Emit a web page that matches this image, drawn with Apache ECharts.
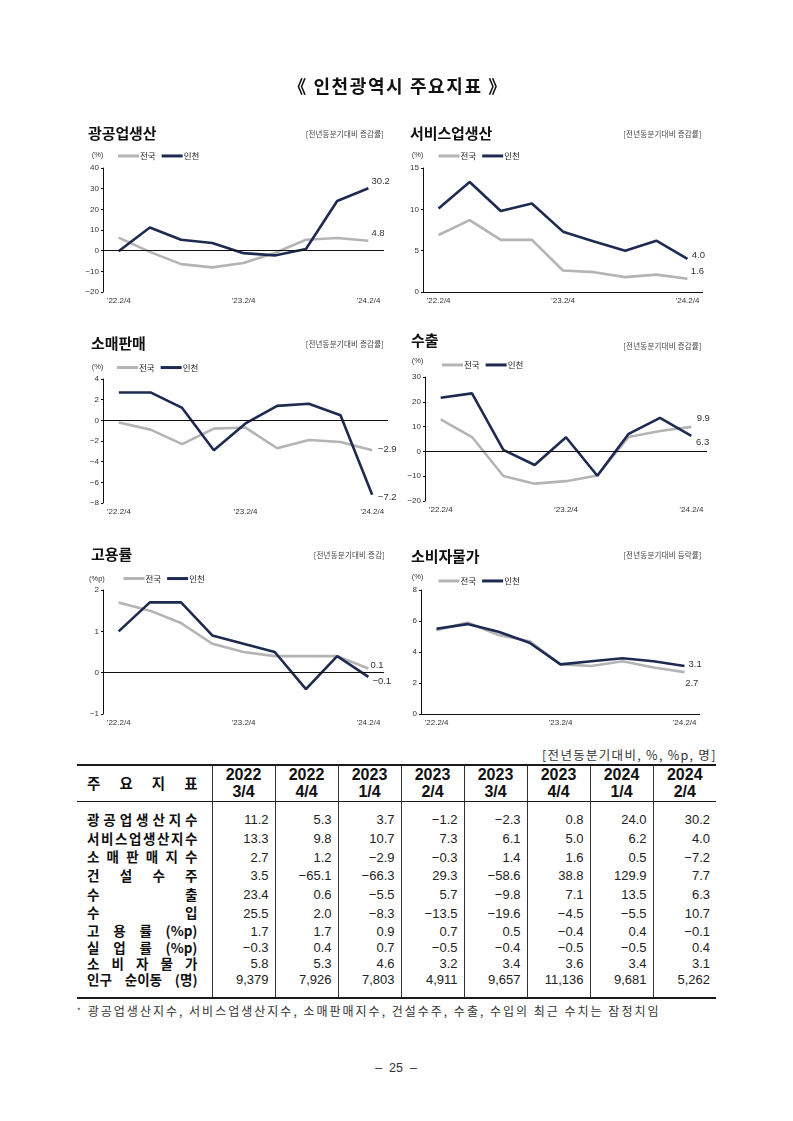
<!DOCTYPE html>
<html><head><meta charset="utf-8">
<script src="https://cdn.jsdelivr.net/npm/echarts@6/dist/echarts.min.js"></script>
<style>
body{margin:0;background:#fff;}
#page{position:relative;width:793px;height:1121px;font-family:'Liberation Sans','Noto Sans CJK KR',sans-serif;color:#111;overflow:hidden;}
#chart{position:absolute;left:0;top:0;width:793px;height:740px;}
.t{position:absolute;transform:translateY(-50%);line-height:1;white-space:nowrap;}
.h{font-family:'Noto Sans CJK KR',sans-serif;font-weight:700;font-size:15px;letter-spacing:-0.1px;color:#111;}
.s{font-family:'Noto Sans CJK KR',sans-serif;font-size:7.5px;letter-spacing:0.2px;color:#444;}
.u{font-size:7.5px;color:#333;}
#tbl{position:absolute;left:77px;top:764px;width:639px;border-collapse:collapse;table-layout:fixed;}
#tbl td,#tbl th{padding:0;margin:0;}
#tbl th{border-top:2px solid #1a1a1a;border-bottom:1px solid #1a1a1a;height:35px;font-weight:700;font-size:16px;line-height:16.7px;text-align:center;font-family:'Liberation Sans',sans-serif;color:#111;}
#tbl .v{border-left:1px solid #333;}
#tbl td.num{text-align:right;padding-right:6px;font-size:13px;color:#222;line-height:1;}
#tbl tr.last td{border-bottom:2px solid #1a1a1a;}
.lab{display:flex;justify-content:space-between;padding:0 14px 0 10px;font-family:'Noto Sans CJK KR',sans-serif;font-weight:700;font-size:13.5px;line-height:1;color:#111;}
</style></head>
<body><div id="page">
<div id="chart"></div>
</div>
<script>
// ---------------- data ----------------
const periods = ["’22.2/4","’22.3/4","’22.4/4","’23.1/4","’23.2/4","’23.3/4","’23.4/4","’24.1/4","’24.2/4"];
const miningNational  = [6.3, -0.6, -6.5, -8.1, -6.0, -1.1, 5.3, 6.1, 4.8];
const miningIncheon   = [-0.3, 11.2, 5.3, 3.7, -1.2, -2.3, 0.8, 24.0, 30.2];
const serviceNational = [6.9, 8.7, 6.3, 6.3, 2.6, 2.4, 1.8, 2.1, 1.6];
const serviceIncheon  = [10.1, 13.3, 9.8, 10.7, 7.3, 6.1, 5.0, 6.2, 4.0];
const retailNational  = [-0.2, -0.9, -2.3, -0.8, -0.7, -2.7, -1.9, -2.1, -2.9];
const retailIncheon   = [2.7, 2.7, 1.2, -2.9, -0.3, 1.4, 1.6, 0.5, -7.2];
const exportNational  = [12.9, 5.8, -9.9, -13.0, -12.0, -9.7, 5.8, 8.2, 9.9];
const exportIncheon   = [21.6, 23.4, 0.6, -5.5, 5.7, -9.8, 7.1, 13.5, 6.3];
const employNational  = [1.7, 1.5, 1.2, 0.7, 0.5, 0.4, 0.4, 0.4, 0.1];
const employIncheon   = [1.0, 1.7, 1.7, 0.9, 0.7, 0.5, -0.4, 0.4, -0.1];
const cpiNational     = [5.4, 5.9, 5.1, 4.7, 3.2, 3.1, 3.4, 3.0, 2.7];
const cpiIncheon      = [5.5, 5.8, 5.3, 4.6, 3.2, 3.4, 3.6, 3.4, 3.1];

const chartTitles = ["광공업생산","서비스업생산","소매판매","수출","고용률","소비자물가"];
const chartNotes  = ["[전년동분기대비 증감률]","[전년동분기대비 증감률]","[전년동분기대비 증감률]","[전년동분기대비 증감률]","[전년동분기대비 증감]","[전년동분기대비 등락률]"];
const chartUnits  = ["(%)","(%)","(%)","(%)","(%p)","(%)"];
const yMins = [-20, 0, -8, -20, -1, 0];
const yMaxs = [40, 15, 4, 30, 2, 8];
const ySteps = [10, 5, 2, 10, 1, 2];
const legendNames = ["전국","인천"];

const tableHeads = [["2022","3/4"],["2022","4/4"],["2023","1/4"],["2023","2/4"],["2023","3/4"],["2023","4/4"],["2024","1/4"],["2024","2/4"]];
const tableLabels = ["광공업생산지수","서비스업생산지수","소 매 판 매 지 수","건 설 수 주","수 출","수 입","고 용 률 (%p)","실 업 률 (%p)","소 비 자 물 가","인구 순이동 (명)"];
const rowMining   = [11.2, 5.3, 3.7, -1.2, -2.3, 0.8, 24.0, 30.2];
const rowService  = [13.3, 9.8, 10.7, 7.3, 6.1, 5.0, 6.2, 4.0];
const rowRetail   = [2.7, 1.2, -2.9, -0.3, 1.4, 1.6, 0.5, -7.2];
const rowConstr   = [3.5, -65.1, -66.3, 29.3, -58.6, 38.8, 129.9, 7.7];
const rowExport   = [23.4, 0.6, -5.5, 5.7, -9.8, 7.1, 13.5, 6.3];
const rowImport   = [25.5, 2.0, -8.3, -13.5, -19.6, -4.5, -5.5, 10.7];
const rowEmploy   = [1.7, 1.7, 0.9, 0.7, 0.5, -0.4, 0.4, -0.1];
const rowUnemploy = [-0.3, 0.4, 0.7, -0.5, -0.4, -0.5, -0.5, 0.4];
const rowCpi      = [5.8, 5.3, 4.6, 3.2, 3.4, 3.6, 3.4, 3.1];
const rowMigration= [9379, 7926, 7803, 4911, 9657, 11136, 9681, 5262];

// ---------------- layout (style only) ----------------
const FONT = "'Liberation Sans','Noto Sans CJK KR',sans-serif";
const grids = [
  {left:103, top:168, width:281, height:124},
  {left:423, top:168, width:280, height:124},
  {left:103, top:379, width:285, height:124},
  {left:425, top:377, width:282, height:124},
  {left:103, top:590, width:281, height:124},
  {left:421, top:590, width:279, height:124}
];
const titlePos = [[88,131.7],[410,131.7],[91,341.7],[411,339],[91,553.3],[411,555]];
const notePos  = [[384,134],[701.7,134],[384,344.3],[701.7,345.7],[385,555],[701.7,555]];
const unitPos  = [[91.7,155],[411.7,155],[91.7,366.7],[411.7,361],[89,579],[411.7,577.3]];
const legendPos= [[118,156.7],[438.5,156.7],[117,368.3],[442,365.7],[123.5,579.3],[438.5,581.7]];
const natOffset = [[-5,-7],[-4.7,-7.4],[-2.3,-1.2],[-2.7,-8.3],[-6,-2.8],[-7.3,11]];
const incOffset = [[-5,-7],[-3.7,-3.2],[-2.3,2.9],[-3.3,6.8],[-4,4.9],[-4,-1.7]];

const nationals = [miningNational, serviceNational, retailNational, exportNational, employNational, cpiNational];
const incheons  = [miningIncheon, serviceIncheon, retailIncheon, exportIncheon, employIncheon, cpiIncheon];

const minus = s => String(s).replace('-', '−');
const fmt1 = v => minus(Number(v).toFixed(1));

// ---------------- html texts ----------------
const page = document.getElementById('page');
function addText(txt, x, y, cls, align, extra){
  const d = document.createElement('div');
  d.className = 't ' + (cls||'');
  d.textContent = txt;
  if (align === 'right') { d.style.right = (793 - x) + 'px'; }
  else if (align === 'center') { d.style.left = x + 'px'; d.style.transform = 'translate(-50%,-50%)'; }
  else { d.style.left = x + 'px'; }
  d.style.top = y + 'px';
  if (extra) Object.assign(d.style, extra);
  page.appendChild(d);
  return d;
}
addText('《 인천광역시 주요지표 》', 398, 85, '', 'center', {fontFamily:"'Noto Sans CJK KR',sans-serif", fontWeight:'700', fontSize:'18px', letterSpacing:'1.6px'});
for (let i=0;i<6;i++){
  addText(chartTitles[i], titlePos[i][0], titlePos[i][1], 'h');
  addText(chartNotes[i], notePos[i][0], notePos[i][1], 's', 'right');
  addText(chartUnits[i], unitPos[i][0], unitPos[i][1], 'u');
}
addText('[전년동분기대비, %, %p, 명]', 716.7, 755, '', 'right', {fontFamily:"'Noto Sans CJK KR',sans-serif", fontSize:'12.5px', color:'#333', letterSpacing:'1.3px'});
const fn = addText('', 77, 1011, '', 'left', {fontFamily:"'Noto Sans CJK KR',sans-serif", fontSize:'12px', color:'#333', letterSpacing:'2px'});
fn.innerHTML = '<span style="font-size:8px;vertical-align:2px;margin-right:5px">*</span>광공업생산지수, 서비스업생산지수, 소매판매지수, 건설수주, 수출, 수입의 최근 수치는 잠정치임';
const pn = addText('', 396, 1068, '', 'center', {fontSize:'12.5px', color:'#333'});
pn.innerHTML = '–&nbsp;&nbsp;25&nbsp;&nbsp;–';

// ---------------- table ----------------
const rows = [rowMining,rowService,rowRetail,rowConstr,rowExport,rowImport,rowEmploy,rowUnemploy,rowCpi,rowMigration];
const rowHeights = [18.7,18.6,18.9,18.8,18.7,18.3,17.5,15.8,15.9,16.6];
const tbl = document.createElement('table'); tbl.id='tbl';
let html = '<colgroup><col style="width:135px">' + tableHeads.map(()=>'<col style="width:63px">').join('') + '</colgroup>';
function labelDiv(s){
  const toks = s.includes(' ') ? s.split(' ') : s.split('');
  return '<div class="lab">' + toks.map(t=>'<span>'+t+'</span>').join('') + '</div>';
}
html += '<tr><th>' + '<div class="lab" style="font-size:14.5px;padding-right:14px">'+['주','요','지','표'].map(t=>'<span>'+t+'</span>').join('')+'</div>' + '</th>' +
  tableHeads.map(h=>'<th class="v">'+h[0]+'<br>'+h[1]+'</th>').join('') + '</tr>';
const blank = '<td></td>' + tableHeads.map(()=>'<td class="v"></td>').join('');
html += '<tr style="height:8.8px">'+blank+'</tr>';
rows.forEach((r,i)=>{
  const vals = r.map(v => i===9 ? v.toLocaleString('en-US') : fmt1(v));
  html += '<tr style="height:'+rowHeights[i]+'px"><td>'+labelDiv(tableLabels[i])+'</td>' + vals.map(v=>'<td class="v num">'+v+'</td>').join('') + '</tr>';
});
html += '<tr class="last" style="height:10px">'+blank+'</tr>';
tbl.innerHTML = html;
page.appendChild(tbl);

// ---------------- charts ----------------
const NAVY = '#1e2b50', GRAY = '#b4b4b4';
const option = {
  animation:false,
  textStyle:{fontFamily:FONT},
  grid: grids.map(g=>Object.assign({outerBoundsMode:'none', containLabel:false}, g)),
  legend: legendPos.map(p=>({
    left:p[0], top:p[1]-5, data:legendNames, icon:'rect', itemWidth:21, itemHeight:3, itemGap:6,
    selectedMode:false, padding:0,
    textStyle:{fontSize:8.5, color:'#222', fontFamily:"'Noto Sans CJK KR',sans-serif", padding:[0,0,0,-4]}
  })),
  xAxis: grids.map((g,i)=>({
    type:'category', gridIndex:i, data:periods, boundaryGap:true,
    axisLine:{show:false, onZero:false}, axisTick:{show:false},
    axisLabel:{interval:3, fontSize:8, color:'#333', margin:5}
  })),
  yAxis: grids.map((g,i)=>({
    type:'value', gridIndex:i, min:yMins[i], max:yMaxs[i], interval:ySteps[i],
    axisLine:{show:true, lineStyle:{color:'#111', width:1}},
    axisTick:{show:true, length:2, lineStyle:{color:'#111'}},
    splitLine:{show:false},
    axisLabel:{fontSize:8, color:'#333', margin:4, formatter:v=>minus(v)}
  })),
  series: []
};
for (let i=0;i<6;i++){
  option.series.push({
    type:'line', name:'전국', xAxisIndex:i, yAxisIndex:i, data:nationals[i],
    symbol:'none', lineStyle:{color:GRAY, width:2.6}, itemStyle:{color:GRAY},
    endLabel:{show:true, formatter:p=>fmt1(p.value), fontSize:9.5, color:'#333', offset:natOffset[i]},
    markLine:{silent:true, symbol:'none', label:{show:false}, animation:false,
      lineStyle:{color:'#111', width:1, type:'solid'}, data:[{yAxis:0}]},
    z:2
  });
  option.series.push({
    type:'line', name:'인천', xAxisIndex:i, yAxisIndex:i, data:incheons[i],
    symbol:'none', lineStyle:{color:NAVY, width:2.6}, itemStyle:{color:NAVY},
    endLabel:{show:true, formatter:p=>fmt1(p.value), fontSize:9.5, color:'#333', offset:incOffset[i]},
    z:3
  });
}
const chart = echarts.init(document.getElementById('chart'), null, {renderer:'canvas'});
chart.setOption(option);
</script>
</body></html>
